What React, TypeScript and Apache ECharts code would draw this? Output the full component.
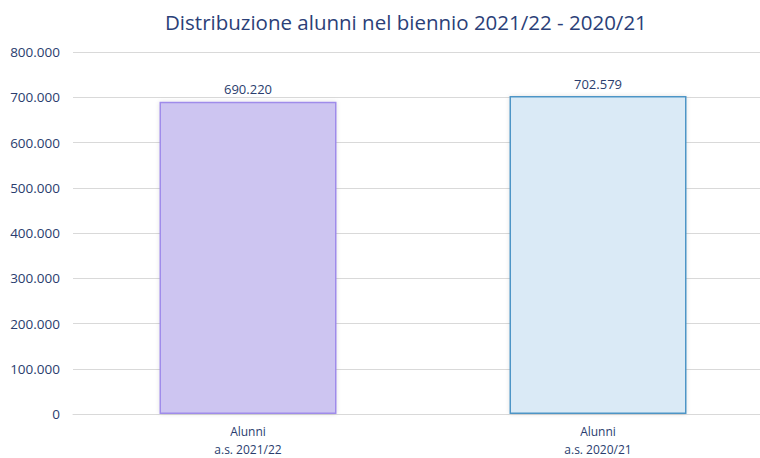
import React, { useEffect, useRef } from "react";
import * as echarts from "echarts";

const title = "Distribuzione alunni nel biennio 2021/22 - 2020/21";
const categories = ["Alunni\na.s. 2021/22", "Alunni\na.s. 2020/21"];
const values = [690220, 702579];
const fillColors = ["#CDC5F1", "#DAEAF6"];
const borderColors = ["#9F8CEA", "#4E95C6"];

const fmt = (v: number) => {
  const s = Math.round(v).toString();
  return s.replace(/\B(?=(\d{3})+(?!\d))/g, ".");
};

export default function App() {
  const ref = useRef<HTMLDivElement>(null);
  useEffect(() => {
    const chart = echarts.init(ref.current!, undefined, { renderer: "svg" });
    const textColor = "#2A3D6E";
    chart.setOption({
      animation: false,
      backgroundColor: "#ffffff",
      title: {
        text: title,
        left: 160,
        top: 6,
        textStyle: {
          fontFamily: "Open Sans",
          fontSize: 20.5,
          fontWeight: "normal",
          color: "#2B3F78",
        },
      },
      grid: {
        left: 73,
        top: 52,
        width: 700,
        height: 362,
        containLabel: false,
        outerBoundsMode: "none",
      },
      xAxis: {
        type: "category",
        data: categories,
        axisLine: { lineStyle: { color: "#D9D9D9", width: 1 } },
        axisTick: { show: false },
        axisLabel: {
          color: textColor,
          fontFamily: "Open Sans",
          fontSize: 12,
          lineHeight: 18,
          margin: 8,
        },
      },
      yAxis: {
        type: "value",
        min: 0,
        max: 800000,
        interval: 100000,
        axisLine: { show: false },
        axisTick: { show: false },
        splitLine: { lineStyle: { color: "#D9D9D9", width: 1 } },
        axisLabel: {
          color: textColor,
          fontFamily: "Open Sans",
          fontSize: 13.5,
          margin: 13,
          formatter: (v: number) => fmt(v),
        },
      },
      series: [
        {
          type: "bar",
          barWidth: 177,
          data: values.map((v, i) => ({
            value: v,
            itemStyle: {
              color: fillColors[i],
              borderColor: borderColors[i],
              borderWidth: 1.5,
              shadowBlur: 4,
              shadowColor: "rgba(0,0,0,0.12)",
            },
          })),
          label: {
            show: true,
            position: "top",
            distance: 6,
            color: textColor,
            fontFamily: "Open Sans",
            fontSize: 13,
            formatter: (p: any) => fmt(p.value),
          },
        },
      ],
    });
    return () => chart.dispose();
  }, []);
  return (
    <div
      ref={ref}
      style={{ position: "absolute", left: 0, top: 0, width: 760, height: 458 }}
    />
  );
}
